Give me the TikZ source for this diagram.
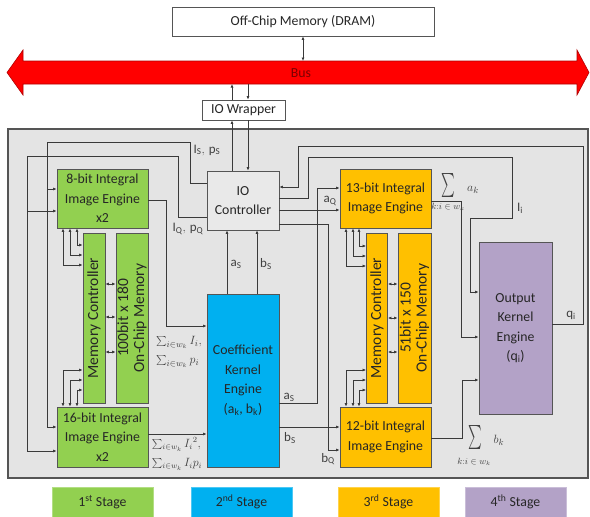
\documentclass[tikz,border=0pt]{standalone}
\usepackage{fontspec}
\setmainfont{Carlito}
\usetikzlibrary{arrows.meta}
\definecolor{stgA}{HTML}{92D050}
\definecolor{stgB}{HTML}{00B0F0}
\definecolor{stgC}{HTML}{FFC000}
\definecolor{stgD}{HTML}{B3A2C7}
\definecolor{bgcol}{HTML}{E4E4E4}
\definecolor{ioccol}{HTML}{E9E9E9}
\definecolor{edgecol}{HTML}{555555}
\definecolor{wirecol}{HTML}{3A3A3A}
\definecolor{busred}{HTML}{FF0000}
\definecolor{busedge}{HTML}{B00000}
\definecolor{labcol}{HTML}{404040}
\begin{document}
\begin{tikzpicture}[x=1pt,y=-1pt,
  box/.style={draw=edgecol, line width=0.8pt, align=center, inner sep=0pt,
    font=\fontsize{13.8}{19.5}\selectfont, text=black!85},
  memtxt/.style={font=\fontsize{15.5}{16}\selectfont},
  wire/.style={draw=wirecol, line width=0.7pt},
  arr/.style={wire, -{Latex[length=3.5pt,width=3pt]}},
  darr/.style={wire, {Latex[length=3.5pt,width=3pt]}-{Latex[length=3.5pt,width=3pt]}},
  lab/.style={font=\fontsize{13}{15}\selectfont, text=labcol, inner sep=0pt},
  legbox/.style={fill=#1, draw=#1!70!white, line width=0.6pt, minimum width=101pt,
    minimum height=30pt, inner sep=0pt, font=\fontsize{13.8}{15}\selectfont, text=black!85}
]
\useasboundingbox (0,0) rectangle (590,517);
% off-chip memory and bus
\node[box, fill=white, minimum width=262pt, minimum height=29pt] (mem) at (303,21.5) {Off-Chip Memory (DRAM)};
\fill[busred, draw=busedge, line width=0.6pt] (7,72.5) -- (23,50) -- (23,61) -- (577,61) -- (577,50)
  -- (589,72.5) -- (577,95) -- (577,84) -- (23,84) -- (23,95) -- cycle;
\node[font=\fontsize{13.8}{15}\selectfont, text=busedge!70!black] (bus) at (301,73) {Bus};
\coordinate (busT) at (303,61);
\coordinate (busB1) at (232,84);
\coordinate (busB2) at (248,84);
\node[box, fill=white, minimum width=83pt, minimum height=20pt] (wrap) at (243.5,110) {IO Wrapper};
% chip area
\node[draw=edgecol, line width=1.1pt, fill=bgcol, minimum width=580pt, minimum height=349pt, inner sep=0pt] (chip) at (298,303.5) {};
% boxes
\node[box, fill=ioccol, minimum width=72pt, minimum height=59pt] (ioc) at (243,200.5) {IO\\Controller};
\node[box, fill=stgA, minimum width=91pt, minimum height=59pt] (e8) at (102.5,198.5) {8-bit Integral\\Image Engine\\x2};
\node[box, fill=stgA, rotate=90, minimum width=170pt, minimum height=22pt, memtxt] (mcL) at (94,318) {Memory Controller};
\node[box, fill=stgA, rotate=90, minimum width=170pt, minimum height=32pt, memtxt] (memL) at (132,318) {100bit x 180\\On-Chip Memory};
\node[box, fill=stgA, minimum width=91pt, minimum height=60pt] (e16) at (102.5,437) {16-bit Integral\\Image Engine\\x2};
\node[box, fill=stgB, minimum width=72pt, minimum height=173pt] (cke) at (243,380.5) {Coefficient\\Kernel\\Engine\\(a\textsubscript{k}, b\textsubscript{k})};
\node[box, fill=stgC, minimum width=91pt, minimum height=59pt] (e13) at (385.5,198.5) {13-bit Integral\\Image Engine};
\node[box, fill=stgC, rotate=90, minimum width=170pt, minimum height=21pt, memtxt] (mcR) at (377,318) {Memory Controller};
\node[box, fill=stgC, rotate=90, minimum width=170pt, minimum height=33pt, memtxt] (memR) at (414.5,318) {51bit x 150\\On-Chip Memory};
\node[box, fill=stgC, minimum width=91pt, minimum height=60pt] (e12) at (385.5,437) {12-bit Integral\\Image Engine};
\node[box, fill=stgD, minimum width=73pt, minimum height=172pt] (oke) at (515.5,328) {Output\\Kernel\\Engine\\(q\textsubscript{i})};
% legend
\node[legbox=stgA] (lg1) at (102.5,502) {1\textsuperscript{st} Stage};
\node[legbox=stgB] (lg2) at (241.5,502) {2\textsuperscript{nd} Stage};
\node[legbox=stgC] (lg3) at (388.5,502) {3\textsuperscript{rd} Stage};
\node[legbox=stgD] (lg4) at (515.5,502) {4\textsuperscript{th} Stage};
% bus links
\draw[darr] (mem.south) -- (busT);
\draw[arr] (wrap.north -| 232,0) -- (busB1);
\draw[arr] (busB2) -- (wrap.north -| 248,0);
\draw[arr] (ioc.north -| 232,0) -- (wrap.south -| 232,0);
\draw[arr] (wrap.south -| 248,0) -- (ioc.north -| 248,0);
% coefficient engine to IO controller
\draw[arr] (cke.north -| 227,0) -- (ioc.south -| 227,0);
\draw[arr] (cke.north -| 257,0) -- (ioc.south -| 257,0);
% left wires
\draw[arr] (ioc.west |- 0,183) -| (190,142) -| (47,427) -- (e16.west |- 0,427);
\draw[arr] (47,189) -- (e8.west |- 0,189);
\draw[arr] (ioc.west |- 0,217) -| (178,156) -| (27,451) -- (e16.west |- 0,451);
\draw[arr] (27,211) -- (e8.west |- 0,211);
\draw[arr] (e8.east |- 0,200) -| (166,326) -- (cke.west |- 0,326);
\draw[arr] (e16.east |- 0,434) -- (cke.west |- 0,434);
% left memory controller links
\draw[darr] (e8.south -| 77,0) |- (mcL.north |- 0,245);
\draw[darr] (e8.south -| 70,0) |- (mcL.north |- 0,255);
\draw[darr] (e8.south -| 63,0) |- (mcL.north |- 0,265);
\draw[darr] (e16.north -| 63,0) |- (mcL.north |- 0,370);
\draw[darr] (e16.north -| 70,0) |- (mcL.north |- 0,380);
\draw[darr] (e16.north -| 77,0) |- (mcL.north |- 0,390);
\draw[darr] (mcL.south |- 0,284) -- (memL.north |- 0,284);
\draw[darr] (mcL.south |- 0,317) -- (memL.north |- 0,317);
\draw[darr] (mcL.south |- 0,352) -- (memL.north |- 0,352);
% right memory controller links
\draw[darr] (e13.south -| 359,0) |- (mcR.north |- 0,246);
\draw[darr] (e13.south -| 353,0) |- (mcR.north |- 0,256);
\draw[darr] (e13.south -| 346,0) |- (mcR.north |- 0,266);
\draw[darr] (e12.north -| 346,0) |- (mcR.north |- 0,370);
\draw[darr] (e12.north -| 353,0) |- (mcR.north |- 0,380);
\draw[darr] (e12.north -| 359,0) |- (mcR.north |- 0,390);
\draw[darr] (mcR.south |- 0,284) -- (memR.north |- 0,284);
\draw[darr] (mcR.south |- 0,318) -- (memR.north |- 0,318);
\draw[darr] (mcR.south |- 0,352) -- (memR.north |- 0,352);
% right wires
\draw[arr] (oke.east |- 0,324) -| (583,146) -| (298,187) -- (ioc.east |- 0,187);
\draw[arr] (ioc.east |- 0,198) -| (308,157) -| (512,218) -| (470,292) -- (oke.west |- 0,292);
\draw[arr] (ioc.east |- 0,210) -- (e13.west |- 0,210);
\draw[arr] (ioc.east |- 0,224) -| (328,450) -- (e12.west |- 0,450);
\draw[arr] (cke.east |- 0,403) -| (317,188) -- (e13.west |- 0,188);
\draw[arr] (cke.east |- 0,427) -- (e12.west |- 0,427);
\draw[arr] (e13.east |- 0,201) -| (461,337) -- (oke.west |- 0,337);
\draw[arr] (e12.east |- 0,438) -| (462,380) -- (oke.west |- 0,380);
% labels
\node[lab] (lIS) at (207,150) {$\mathrm{I_S,\,p_S}$};
\node[lab] (lIQ) at (188,229) {$\mathrm{I_Q,\,p_Q}$};
\node[lab] (laS1) at (236,264) {$\mathrm{a_S}$};
\node[lab] (lbS1) at (266,264) {$\mathrm{b_S}$};
\node[lab] (laQ) at (330,201) {$\mathrm{a_Q}$};
\node[lab] (lbQ) at (328,459) {$\mathrm{b_Q}$};
\node[lab] (laS2) at (289,397) {$\mathrm{a_S}$};
\node[lab] (lbS2) at (290,438) {$\mathrm{b_S}$};
\node[lab] (lIi) at (520,208) {$\mathrm{I_i}$};
\node[lab] (lqi) at (571,315) {$\mathrm{q_i}$};
\node[lab, align=left, font=\fontsize{13}{19}\selectfont] (lsum12) at (179,352)
  {$\sum_{i\in w_k} I_i,$\\$\sum_{i\in w_k} p_i$};
\node[lab, align=left, font=\fontsize{12}{19}\selectfont] (lsum34) at (177,454)
  {$\sum_{i\in w_k} I_i{}^{2},$\\$\sum_{i\in w_k} I_i p_i$};
\node[lab] (sgA) at (448,185) {\scalebox{1.3}[2.4]{$\sum$}};
\node[lab, font=\fontsize{9}{10}\selectfont] (sgAsub) at (448,207) {$k\colon\! i\in w_k$};
\node[lab] (sgAt) at (473,190) {$a_k$};
\node[lab] (sgB) at (475,437) {\scalebox{1.3}[2.4]{$\sum$}};
\node[lab, font=\fontsize{9}{10}\selectfont] (sgBsub) at (474,462) {$k\colon\! i\in w_k$};
\node[lab] (sgBt) at (499,440) {$b_k$};
\end{tikzpicture}
\end{document}
